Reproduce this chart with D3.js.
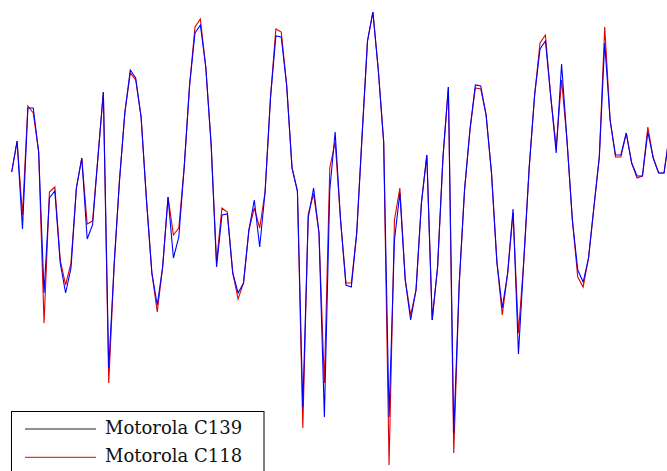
<!DOCTYPE html>
<html>
<head>
<meta charset="utf-8">
<script src="https://cdn.jsdelivr.net/npm/d3@7"></script>
<style>
  html, body { margin: 0; padding: 0; background: #fff; }
  svg { display: block; }
</style>
</head>
<body>
<div id="chart"></div>
<script>
// relative level per sample (dB)
const c139 = [
  -17.2, -14.1, -22.9, -10.8, -10.8, -15.2, -29.3, -19.8, -19.1, -26.3,
  -29.3, -26.8, -18.8, -15.8, -23.9, -22.5, -15.7, -9.2, -36.8, -26.5,
  -18.0, -11.2, -7.0, -7.8, -11.7, -20.0, -27.3, -30.5, -26.7, -19.7,
  -25.8, -23.7, -16.7, -8.5, -3.3, -2.5, -6.7, -14.5, -26.7, -21.5,
  -21.4, -27.3, -29.3, -28.3, -23.0, -20.0, -24.7, -19.2, -9.8, -3.6,
  -3.7, -8.5, -16.8, -19.1, -40.7, -21.8, -18.8, -23.3, -41.7, -19.0,
  -13.2, -22.0, -28.5, -28.7, -23.3, -13.5, -4.1, -1.2, -7.0, -14.2,
  -41.7, -24.0, -19.3, -28.0, -32.0, -29.0, -20.3, -15.5, -32.0, -26.7,
  -15.7, -8.7, -43.3, -28.5, -19.0, -13.0, -8.5, -8.6, -11.5, -17.3,
  -26.2, -30.8, -27.3, -20.9, -35.4, -26.0, -16.7, -9.5, -4.9, -4.1,
  -9.7, -15.3, -6.4, -14.0, -22.0, -27.0, -28.2, -25.8, -20.7, -15.7,
  -4.3, -12.0, -15.5, -15.5, -13.3, -16.3, -17.6, -17.6, -13.2, -15.8,
  -17.3, -17.3, -13.5
];
const c118 = [
  -17.2, -14.1, -21.5, -10.6, -11.3, -15.2, -32.3, -19.2, -18.7, -26.0,
  -28.5, -26.3, -18.8, -15.8, -22.4, -22.1, -15.7, -9.2, -38.3, -26.5,
  -18.0, -11.2, -7.3, -8.0, -11.7, -20.0, -27.3, -31.2, -26.7, -19.7,
  -23.5, -22.8, -16.7, -8.5, -2.7, -1.9, -6.7, -14.5, -26.2, -20.8,
  -21.2, -27.3, -29.9, -28.3, -23.0, -20.8, -22.8, -19.2, -9.8, -2.9,
  -3.2, -8.5, -16.8, -19.1, -42.8, -21.4, -19.4, -23.3, -38.3, -16.8,
  -14.2, -22.0, -28.3, -28.3, -23.3, -13.5, -4.1, -1.2, -7.0, -14.2,
  -46.5, -22.0, -18.8, -28.0, -31.5, -29.0, -20.3, -15.5, -32.0, -26.7,
  -15.7, -8.7, -45.3, -28.5, -19.0, -13.0, -8.8, -8.9, -11.5, -17.3,
  -26.2, -31.5, -27.3, -21.3, -33.3, -26.0, -16.7, -9.5, -4.3, -3.5,
  -9.7, -14.7, -8.0, -14.0, -22.0, -27.7, -28.7, -25.8, -20.7, -15.7,
  -2.7, -12.0, -15.7, -15.7, -13.3, -16.3, -17.8, -17.6, -12.7, -15.8,
  -17.3, -17.3, -13.5
];
const seriesNames = ["Motorola C139", "Motorola C118"];

const width = 667;
const height = 471;

const svg = d3.select("#chart").append("svg")
    .attr("width", width)
    .attr("height", height);

const x = d3.scaleLinear()
    .domain([0, c139.length - 1])
    .range([11.7, 11.7 + 5.391 * (c139.length - 1)]);

const y = d3.scaleLinear()
    .domain([-47.1, 0])
    .range([height, 0]);

const line = d3.line()
    .x((d, i) => x(i))
    .y(d => y(d));

svg.append("path")
    .datum(c118)
    .attr("fill", "none")
    .attr("stroke", "#e00000")
    .attr("stroke-width", 1.1)
    .attr("stroke-linejoin", "miter")
    .attr("d", line);

svg.append("path")
    .datum(c139)
    .attr("fill", "none")
    .attr("stroke", "#0000ff")
    .attr("stroke-width", 1.1)
    .attr("stroke-linejoin", "miter")
    .attr("d", line);

// legend (the C139 entry is drawn black in the original)
const legend = svg.append("g");
legend.append("rect")
    .attr("x", 11.5)
    .attr("y", 411.5)
    .attr("width", 252.5)
    .attr("height", 80)
    .attr("fill", "#fff")
    .attr("stroke", "#000")
    .attr("stroke-width", 1);

const legendColors = ["#222", "#e00000"];
seriesNames.forEach((name, i) => {
  const ly = 429 + i * 28.3;
  legend.append("line")
      .attr("x1", 25)
      .attr("x2", 96)
      .attr("y1", ly)
      .attr("y2", ly)
      .attr("stroke", legendColors[i])
      .attr("stroke-width", 1);
  legend.append("text")
      .attr("x", 105)
      .attr("y", ly + 5)
      .attr("font-family", "DejaVu Serif")
      .attr("font-size", 18)
      .attr("fill", "#111")
      .text(name);
});
</script>
</body>
</html>
